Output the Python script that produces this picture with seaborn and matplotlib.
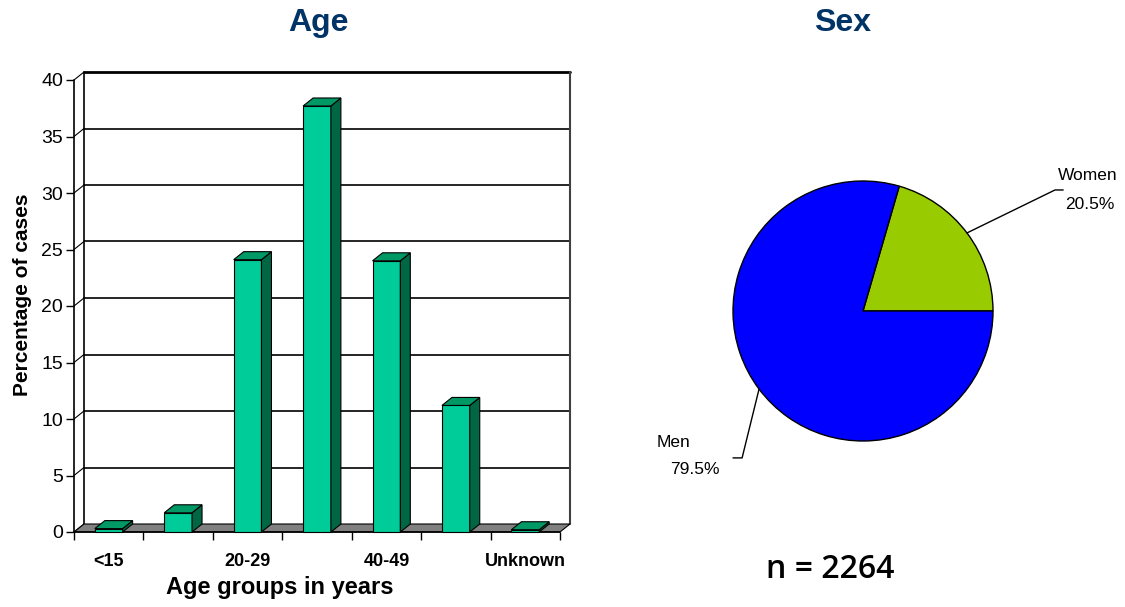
import matplotlib
matplotlib.use("Agg")
import matplotlib.pyplot as plt
import seaborn as sns
import numpy as np
import pandas as pd
from matplotlib.patches import Polygon

# DATA
age_groups = ['<15', '15-19', '20-29', '30-39', '40-49', '50+', 'Unknown']
age_pct = [0.3, 1.7, 24.1, 37.7, 24.0, 11.2, 0.2]
shown_labels = ['<15', '', '20-29', '', '40-49', '', 'Unknown']

sex_labels = ['Women', 'Men']
sex_pct = [20.5, 79.5]
n_total = 2264

# STYLE
sns.set_style("white")
plt.rcParams['font.family'] = ['Liberation Sans', 'DejaVu Sans']
plt.rcParams['text.color'] = 'black'
plt.rcParams['axes.labelcolor'] = 'black'
plt.rcParams['xtick.color'] = 'black'
plt.rcParams['ytick.color'] = 'black'

TITLE_COL = '#003366'
FRONT = '#00CC99'
SIDE = '#006644'
TOP = '#009966'

fig = plt.figure(figsize=(11.25, 6.07), dpi=100)

# BAR CHART (pseudo 3D)
AX_L, AX_R, AX_B, AX_T = 74, 560, 532, 80
ax = fig.add_axes([AX_L/1125, (607 - AX_B)/607, (AX_R - AX_L)/1125, (AX_B - AX_T)/607])
df = pd.DataFrame({'group': age_groups, 'pct': age_pct})
sns.barplot(data=df, x='group', y='pct', order=age_groups, color=FRONT,
            width=0.40, edgecolor='black', linewidth=0.8, saturation=1,
            ax=ax, zorder=3)
ax.set_xlim(-0.5, len(age_groups) - 0.5)
ax.set_ylim(0, 40)
for s in ax.spines.values():
    s.set_visible(False)

# depth offsets in data units
dx = 10 / ((AX_R - AX_L) / len(age_groups))
dy = 8 / ((AX_B - AX_T) / 40)
x0, x1 = -0.5, len(age_groups) - 0.5

# floor
floor = Polygon([(x0, 0), (x1, 0), (x1 + dx, dy), (x0 + dx, dy)], closed=True,
                facecolor='#808080', edgecolor='black', lw=0.8, zorder=2, clip_on=False)
ax.add_patch(floor)

# back wall, grid, left side wall
yt = np.arange(0, 45, 5)
for v in yt:
    if v == 0:
        continue
    lw = 2 if v == 40 else 1.2
    ax.plot([x0 + dx, x1 + dx], [v + dy, v + dy], color='black', lw=lw, zorder=1, clip_on=False)
for v in yt:
    ax.plot([x0, x0 + dx], [v, v + dy], color='black', lw=0.8, zorder=1, clip_on=False)
ax.plot([x0, x0], [0, 40], color='black', lw=1.2, zorder=1, clip_on=False)
ax.plot([x0 + dx, x0 + dx], [dy, 40 + dy], color='black', lw=1.2, zorder=1, clip_on=False)
ax.plot([x1 + dx, x1 + dx], [dy, 40 + dy], color='#404040', lw=1.5, zorder=1, clip_on=False)
ax.plot([x0, x1], [0, 0], color='black', lw=1.2, zorder=2, clip_on=False)

# side and top faces of bars
for p in ax.patches[:len(age_groups)]:
    bx, bw, bh = p.get_x(), p.get_width(), p.get_height()
    side = Polygon([(bx + bw, 0), (bx + bw + dx, dy), (bx + bw + dx, bh + dy), (bx + bw, bh)],
                   closed=True, facecolor=SIDE, edgecolor='black', lw=0.8, zorder=3, clip_on=False)
    top = Polygon([(bx, bh), (bx + dx, bh + dy), (bx + bw + dx, bh + dy), (bx + bw, bh)],
                  closed=True, facecolor=TOP, edgecolor='black', lw=0.8, zorder=3, clip_on=False)
    ax.add_patch(side)
    ax.add_patch(top)
    p.set_clip_on(False)

ax.set_yticks(yt)
ax.set_yticklabels([str(v) for v in yt], fontsize=14)
ax.set_xticks(range(len(age_groups)))
ax.set_xticklabels(shown_labels, fontsize=13, fontweight='bold')
ax.set_xticks(np.arange(-0.5, len(age_groups)), minor=True)
ax.tick_params(axis='x', which='major', length=0, pad=15)
ax.tick_params(axis='x', which='minor', length=6, width=1, direction='out', bottom=True)
ax.tick_params(axis='y', length=6, width=1, direction='out', left=True, pad=2)
ax.set_xlabel("Age groups in years", fontsize=17, fontweight='bold')
ax.set_ylabel("Percentage of cases", fontsize=15, fontweight='bold')
ax.xaxis.set_label_coords(0.424, -0.097)
ax.yaxis.set_label_coords(-0.086, 0.524)
ax.grid(False)

fig.text(318/1125, 1 - 31/607, "Age", fontsize=23, fontweight='bold', color=TITLE_COL,
         ha='center', va='baseline')
fig.text(843/1125, 1 - 31/607, "Sex", fontsize=23, fontweight='bold', color=TITLE_COL,
         ha='center', va='baseline')

# PIE CHART
ax2 = fig.add_axes([(863 - 130)/1125, (296 - 130)/607, 260/1125, 260/607])
wedges, _ = ax2.pie(sex_pct, colors=['#99CC00', '#0000FF'], startangle=0, counterclock=True,
                    radius=1, wedgeprops=dict(edgecolor='black', linewidth=1))
ax2.set_xlim(-1, 1)
ax2.set_ylim(-1, 1)
ax2.set_aspect('equal')
ax2.axis('off')

# leader lines: elbow and label positions (layout)
elbows = [((1.477, 0.931), (1.54, 0.931)), ((-0.93, -1.13), (-1.0, -1.13))]
name_pos = [(1.50, 1.046), (-1.585, -1.015)]
pct_pos = [(1.554, 0.823), (-1.485, -1.223)]
for w, lab, pct, (e1, e2), npos, ppos in zip(wedges, sex_labels, sex_pct, elbows, name_pos, pct_pos):
    ang = np.deg2rad((w.theta1 + w.theta2) / 2)
    sx, sy = np.cos(ang), np.sin(ang)
    ax2.plot([sx, e1[0], e2[0]], [sy, e1[1], e2[1]], color='black', lw=1, clip_on=False)
    ax2.text(npos[0], npos[1], lab, fontsize=12.5, ha='left', va='center')
    ax2.text(ppos[0], ppos[1], f"{pct:.1f}%", fontsize=12.5, ha='left', va='center')

fig.text(830/1125, 1 - 569/607, f"n = {n_total}", fontsize=23, fontweight='semibold',
         family=['Open Sans', 'DejaVu Sans'], ha='center', va='center')

fig.savefig("out.png", dpi=100)
